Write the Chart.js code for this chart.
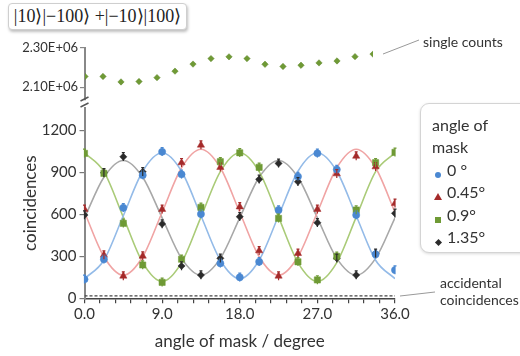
<!DOCTYPE html>
<html>
<head>
<meta charset="utf-8">
<script src="https://cdn.jsdelivr.net/npm/chart.js@4.4.0/dist/chart.umd.min.js"></script>
<style>
  html, body { margin: 0; padding: 0; background: #fff; }
  #wrap { position: relative; width: 520px; height: 356px; overflow: hidden; font-family: Lato, sans-serif; color: #333; }
  #wrap canvas { position: absolute; left: 0; top: 0; }
  .ket { position: absolute; left: 8px; top: 3px; width: 177px; height: 25px; border: 1px solid #cfcfcf; border-radius: 4px;
         box-shadow: 1px 2px 3px rgba(0,0,0,0.25); background: #fff; font-family: "Liberation Serif", serif; font-size: 18px;
         line-height: 25px; text-align: center; color: #222; white-space: nowrap; }
  .legend { position: absolute; left: 420px; top: 103px; width: 120px; height: 150px; border: 1px solid #d4d4d4; border-radius: 9px;
            box-shadow: 0 1px 3px rgba(0,0,0,0.15); background: #fff; font-size: 16px; padding: 10px 0 0 11px; box-sizing: border-box; }
  .legend .row { height: 22.4px; line-height: 22px; white-space: nowrap; }
  .legend .sym { display: inline-block; width: 12px; text-align: center; margin-right: 3px; vertical-align: middle; }
  .note { position: absolute; font-size: 14px; color: #333; line-height: 17px; white-space: nowrap; }
</style>
</head>
<body>
<div id="wrap">
  <div class="ket">|10⟩|−100⟩ +|−10⟩|100⟩</div>
  <canvas id="topChart" width="520" height="356"></canvas>
  <canvas id="mainChart" width="520" height="356"></canvas>
  <div class="legend" id="legend"></div>
  <div class="note" style="left:423px; top:33px;">single counts</div>
  <div class="note" style="left:440px; top:274px;">accidental<br>coincidences</div>
</div>
<script>
// mask angle positions (degree)
const ANGLES = [0, 2.25, 4.5, 6.75, 9, 11.25, 13.5, 15.75, 18, 20.25, 22.5, 24.75, 27, 29.25, 31.5, 33.75, 36];

// single counts
const SINGLES = [2.155e6, 2.155e6, 2.127e6, 2.129e6, 2.149e6, 2.182e6, 2.218e6, 2.246e6, 2.255e6,
                 2.246e6, 2.217e6, 2.206e6, 2.212e6, 2.224e6, 2.234e6, 2.256e6, 2.269e6];

// measured coincidences per mask offset
const COINC_0   = [136, 279, 647, 880, 1047, 886, 602, 250, 150, 261, 631, 870, 1036, 920, 595, 314, 202];
const COINC_045 = [636, 309, 159, 302, 636, 969, 1095, 936, 654, 340, 159, 321, 636, 890, 1016, 940, 679];
const COINC_09  = [1036, 893, 536, 238, 114, 279, 650, 976, 1040, 936, 571, 261, 131, 300, 631, 969, 1043];
const COINC_135 = [595, 897, 1011, 904, 531, 231, 166, 286, 583, 850, 964, 833, 540, 286, 166, 321, 607];

// fitted curves at the same angles
const FIT_0   = [140, 272, 590, 908, 1040, 908, 590, 272, 140, 272, 590, 908, 1040, 908, 590, 272, 140];
const FIT_045 = [615, 297, 165, 297, 615, 933, 1065, 933, 615, 297, 165, 297, 615, 933, 1065, 933, 615];
const FIT_09  = [1040, 905, 580, 255, 120, 255, 580, 905, 1040, 905, 580, 255, 120, 255, 580, 905, 1040];
const FIT_135 = [575, 865, 985, 865, 575, 285, 165, 285, 575, 865, 985, 865, 575, 285, 165, 285, 575];

const ACCIDENTAL = [18, 18];
const ERR = 30;

const SERIES_LABELS = ['0 °', '0.45°', '0.9°', '1.35°'];
const X_TICKS = [0, 1.8, 3.6, 5.4, 7.2, 9, 10.8, 12.6, 14.4, 16.2, 18, 19.8, 21.6, 23.4, 25.2, 27, 28.8, 30.6, 32.4, 34.2, 36];
const Y_TICKS = [0, 300, 600, 900, 1200];
const TOP_TICKS = [2.1e6, 2.3e6];
const TOP_TICK_LABELS = ['2.10E+06', '2.30E+06'];

const pts = ys => ANGLES.map((x, i) => ({ x, y: ys[i] }));

const series = [
  { label: SERIES_LABELS[0], data: COINC_0,   fit: FIT_0,   color: '#4a88d2', line: '#94bbe8', style: 'circle',   r: 3.6 },
  { label: SERIES_LABELS[1], data: COINC_045, fit: FIT_045, color: '#a52a2a', line: '#f0a4a4', style: 'triangle', r: 4.2 },
  { label: SERIES_LABELS[2], data: COINC_09,  fit: FIT_09,  color: '#6f9a35', line: '#aacb78', style: 'rect',     r: 4.4 },
  { label: SERIES_LABELS[3], data: COINC_135, fit: FIT_135, color: '#2b2b2b', line: '#a8a8a8', style: 'rectRot',  r: 3.6 }
];

const fixedTicks = list => scale => { scale.ticks = list.map(v => ({ value: v })); };

// vertical error bars on the measured points
const errorBars = {
  id: 'errorBars',
  afterDatasetsDraw(chart) {
    const { ctx, scales: { x, y } } = chart;
    ctx.save();
    chart.data.datasets.forEach((ds, i) => {
      if (!ds.errorBars || !chart.isDatasetVisible(i)) return;
      ctx.strokeStyle = ds.borderColor;
      ctx.lineWidth = 1.2;
      ds.data.forEach(p => {
        const px = x.getPixelForValue(p.x);
        ctx.beginPath();
        ctx.moveTo(px, y.getPixelForValue(p.y + ERR));
        ctx.lineTo(px, y.getPixelForValue(p.y - ERR));
        ctx.moveTo(px - 1.5, y.getPixelForValue(p.y + ERR));
        ctx.lineTo(px + 1.5, y.getPixelForValue(p.y + ERR));
        ctx.stroke();
      });
    });
    ctx.restore();
  }
};

// axis break marks and leader lines for the side notes
const decorations = {
  id: 'decorations',
  afterDraw(chart) {
    const ctx = chart.ctx;
    const left = chart.chartArea.left;
    ctx.save();
    ctx.strokeStyle = '#555';
    ctx.lineWidth = 1.4;
    ctx.beginPath();
    ctx.moveTo(left - 4, 101); ctx.lineTo(left + 4, 97);
    ctx.moveTo(left - 4, 107); ctx.lineTo(left + 4, 103);
    ctx.stroke();
    ctx.strokeStyle = '#999';
    ctx.lineWidth = 1;
    ctx.beginPath();
    ctx.moveTo(383, 54); ctx.lineTo(419, 40);
    ctx.moveTo(400, 296); ctx.lineTo(435, 292);
    ctx.stroke();
    ctx.restore();
  }
};

// single counts panel
new Chart(document.getElementById('topChart'), {
  type: 'scatter',
  data: {
    datasets: [{
      data: pts(SINGLES),
      pointStyle: 'rectRot',
      pointRadius: 3.2,
      backgroundColor: '#6f9a35',
      borderColor: '#5d8429',
      borderWidth: 0.5
    }]
  },
  options: {
    responsive: false,
    animation: false,
    events: [],
    layout: { padding: { top: 48, right: 147, bottom: 256, left: 0 } },
    plugins: { legend: { display: false }, tooltip: { enabled: false } },
    scales: {
      x: { type: 'linear', min: 0, max: 36, display: false },
      y: {
        min: 2.035e6, max: 2.3e6,
        afterBuildTicks: fixedTicks(TOP_TICKS),
        afterFit: s => { s.width = 85; },
        grid: { drawOnChartArea: false, tickLength: 5, color: '#888', lineWidth: 1.2 },
        border: { color: '#888', width: 2 },
        ticks: {
          padding: 2,
          color: '#333',
          font: { family: 'Lato', size: 13 },
          callback: v => TOP_TICK_LABELS[TOP_TICKS.indexOf(v)]
        }
      }
    }
  }
});

// coincidence panel
const datasets = [];
series.forEach(s => {
  datasets.push({
    type: 'line',
    data: pts(s.fit),
    borderColor: s.line,
    borderWidth: 1.6,
    pointRadius: 0,
    cubicInterpolationMode: 'monotone',
    order: 3
  });
});
series.forEach(s => {
  datasets.push({
    type: 'scatter',
    label: s.label,
    data: pts(s.data),
    pointStyle: s.style,
    pointRadius: s.r,
    backgroundColor: s.color,
    borderColor: s.color,
    borderWidth: 0.5,
    errorBars: true,
    order: 1
  });
});
datasets.push({
  type: 'line',
  data: [{ x: 0, y: ACCIDENTAL[0] }, { x: 36, y: ACCIDENTAL[1] }],
  borderColor: '#444',
  borderWidth: 1.2,
  borderDash: [3, 2],
  pointRadius: 0,
  order: 2
});

new Chart(document.getElementById('mainChart'), {
  type: 'scatter',
  data: { datasets },
  options: {
    responsive: false,
    animation: false,
    events: [],
    layout: { padding: { top: 108, right: 125, bottom: 0, left: 0 } },
    plugins: { legend: { display: false }, tooltip: { enabled: false } },
    scales: {
      x: {
        type: 'linear', min: 0, max: 36,
        afterBuildTicks: fixedTicks(X_TICKS),
        afterFit: s => { s.height = 57.7; },
        grid: { drawOnChartArea: false, tickLength: 5, color: '#444', lineWidth: 1.2 },
        border: { color: '#444', width: 1.6 },
        ticks: {
          autoSkip: false,
          maxRotation: 0,
          padding: 2,
          color: '#333',
          font: { family: 'Lato', size: 15 },
          callback: v => (Math.round(v * 10) % 90 === 0 ? v.toFixed(1) : '')
        },
        title: { display: true, text: 'angle of mask / degree', color: '#333', font: { family: 'Lato', size: 17 }, padding: { top: 0, bottom: 4 } }
      },
      y: {
        min: 0, max: 1360,
        afterBuildTicks: fixedTicks(Y_TICKS),
        afterFit: s => { s.width = 84.5; },
        grid: { drawOnChartArea: false, tickLength: 5, color: '#777', lineWidth: 1.2 },
        border: { color: '#888', width: 2 },
        ticks: { padding: 3, color: '#333', font: { family: 'Lato', size: 15 }, callback: v => String(v) },
        title: { display: true, text: 'coincidences', color: '#333', font: { family: 'Lato', size: 17 }, padding: { top: 20, bottom: 0 } }
      }
    }
  },
  plugins: [errorBars, decorations]
});

// legend box
const symbolHtml = s => {
  const c = s.color;
  switch (s.style) {
    case 'circle':   return `<span style="display:inline-block;width:6px;height:6px;border-radius:50%;background:${c}"></span>`;
    case 'triangle': return `<span style="display:inline-block;width:0;height:0;border-left:4px solid transparent;border-right:4px solid transparent;border-bottom:7px solid ${c}"></span>`;
    case 'rect':     return `<span style="display:inline-block;width:6px;height:6px;background:${c}"></span>`;
    default:         return `<span style="display:inline-block;width:5px;height:5px;background:${c};transform:rotate(45deg)"></span>`;
  }
};
const legend = document.getElementById('legend');
legend.innerHTML = '<div class="row">angle of</div><div class="row">mask</div>' +
  series.map(s => `<div class="row"><span class="sym">${symbolHtml(s)}</span>${s.label}</div>`).join('');
</script>
</body>
</html>
